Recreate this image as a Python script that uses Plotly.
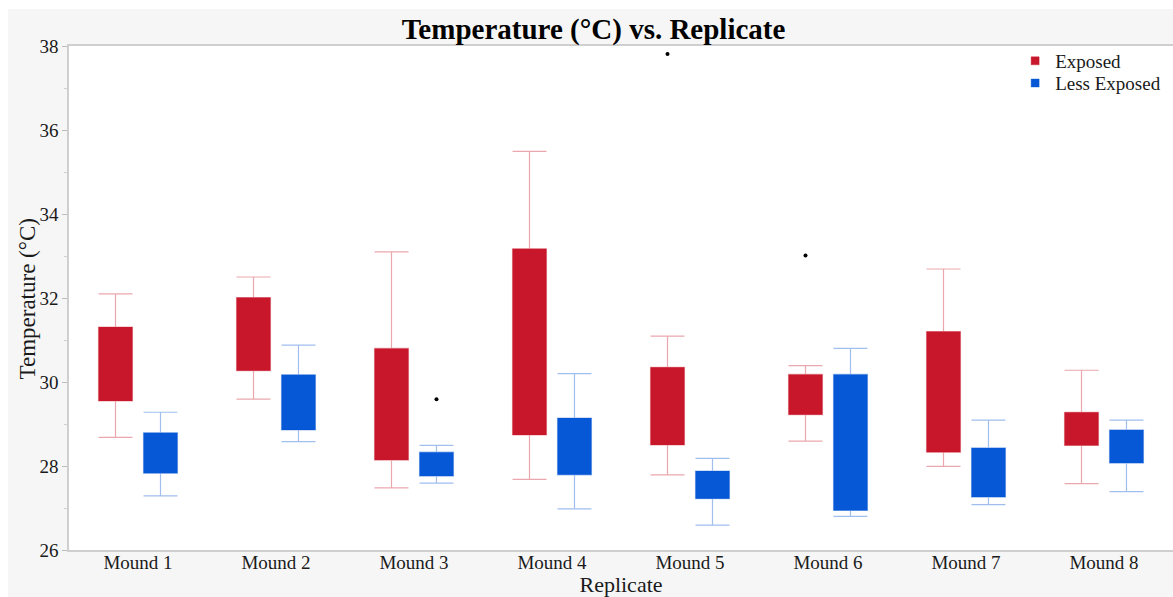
import plotly.graph_objects as go

# Replicate mounds on the x axis
mounds = ["Mound 1", "Mound 2", "Mound 3", "Mound 4", "Mound 5", "Mound 6", "Mound 7", "Mound 8"]

# Exposed: whisker ends and box edges (°C)
exp_low = [28.68, 29.59, 27.48, 27.68, 27.79, 28.59, 27.99, 27.58]
exp_q1 = [29.55, 30.27, 28.14, 28.74, 28.50, 29.22, 28.33, 28.49]
exp_q3 = [31.31, 32.01, 30.80, 33.17, 30.35, 30.18, 31.20, 29.28]
exp_high = [32.10, 32.50, 33.10, 35.49, 31.09, 30.39, 32.69, 30.28]

# Less exposed: whisker ends and box edges (°C)
less_low = [27.29, 28.58, 27.59, 26.98, 26.59, 26.80, 27.08, 27.39]
less_q1 = [27.83, 28.86, 27.76, 27.79, 27.22, 26.94, 27.26, 28.07]
less_q3 = [28.79, 30.17, 28.33, 29.14, 27.88, 30.18, 28.43, 28.86]
less_high = [29.28, 30.88, 28.49, 30.20, 28.18, 30.80, 29.09, 29.09]

# Points beyond the whiskers
exp_out_mound = ["Mound 5", "Mound 6"]
exp_out_val = [37.81, 33.01]
less_out_mound = ["Mound 3"]
less_out_val = [29.59]

RED = "#c8172a"
BLUE = "#0658d6"
RED_LINE = "rgba(200,23,42,0.38)"
BLUE_LINE = "rgba(6,88,214,0.38)"
OFFSET = 0.163
BOX_W = 0.246
SERIF = "Liberation Serif, Times New Roman, serif"

idx = {m: i for i, m in enumerate(mounds)}
x_exp = [i - OFFSET for i in range(len(mounds))]
x_less = [i + OFFSET for i in range(len(mounds))]

fig = go.Figure()

fig.add_trace(go.Box(
    name="Exposed", x=x_exp,
    q1=exp_q1, median=exp_q1, q3=exp_q3,
    lowerfence=exp_low, upperfence=exp_high,
    width=BOX_W, whiskerwidth=1,
    fillcolor=RED, line=dict(color=RED_LINE, width=1.2),
    showlegend=False, hoverinfo="skip",
))
fig.add_trace(go.Box(
    name="Less Exposed", x=x_less,
    q1=less_q1, median=less_q1, q3=less_q3,
    lowerfence=less_low, upperfence=less_high,
    width=BOX_W, whiskerwidth=1,
    fillcolor=BLUE, line=dict(color=BLUE_LINE, width=1.2),
    showlegend=False, hoverinfo="skip",
))

fig.add_trace(go.Scatter(
    x=[idx[m] - OFFSET for m in exp_out_mound] + [idx[m] + OFFSET for m in less_out_mound],
    y=exp_out_val + less_out_val,
    mode="markers", marker=dict(color="black", size=4),
    showlegend=False, hoverinfo="skip",
))

# compact legend keys: small filled rectangles, one legend box per group
for name, col, edge, leg in [("Exposed", RED, RED_LINE, "legend"),
                             ("Less Exposed", BLUE, BLUE_LINE, "legend2")]:
    fig.add_trace(go.Scatter(
        x=[None], y=[None], name=name, mode="markers", legend=leg,
        marker=dict(symbol="square", size=8, color=col, line=dict(color=edge, width=1)),
        hoverinfo="skip",
    ))

# panel background behind the title and axes, plot area kept white
L, T, B, W, H = 69, 46, 47, 1173, 597
pw, ph = W - L, H - T - B
fig.add_shape(type="rect", xref="paper", yref="paper", layer="below",
              x0=(8 - L) / pw, x1=1.05, y0=-(B + 5) / ph, y1=1 + (T - 9) / ph,
              fillcolor="#f6f6f6", line=dict(width=0))
fig.add_shape(type="rect", xref="paper", yref="paper", layer="below",
              x0=0, x1=1, y0=0, y1=1, fillcolor="white", line=dict(width=0))

legend_style = dict(xanchor="left", yanchor="top", bgcolor="rgba(0,0,0,0)",
                    font=dict(size=19, family=SERIF, color="#1a1a1a"), itemwidth=30)

fig.update_layout(
    width=W, height=H,
    margin=dict(l=L, r=0, t=T, b=B),
    paper_bgcolor="white", plot_bgcolor="white",
    boxmode="overlay",
    font=dict(family=SERIF, color="#1a1a1a", size=19),
    title=dict(text="<b>Temperature (°C) vs. Replicate</b>",
               font=dict(family=SERIF, size=29, color="#000"),
               x=0.506, xanchor="center", y=0.952, yanchor="middle", xref="container", yref="container"),
    legend=dict(x=0.857, y=1.008, **legend_style),
    legend2=dict(x=0.857, y=0.964, **legend_style),
    xaxis=dict(range=[-0.5, 7.5], tickvals=list(range(len(mounds))), ticktext=mounds,
               showline=True, linecolor="#cfcfcf", linewidth=1.5, mirror=True,
               ticks="", showgrid=False, zeroline=False, ticklabelstandoff=-6,
               title=dict(text="Replicate", font=dict(size=22, family=SERIF), standoff=8),
               tickfont=dict(size=19, family=SERIF, color="#1a1a1a")),
    yaxis=dict(range=[26, 38], dtick=2, tick0=26,
               showline=True, linecolor="#cfcfcf", linewidth=1.5,
               ticks="outside", ticklen=5, tickcolor="#bdbdbd",
               minor=dict(ticks="outside", ticklen=3, dtick=1, tickcolor="#cfcfcf"),
               showgrid=False, zeroline=False,
               tickfont=dict(size=19, family=SERIF, color="#1a1a1a")),
    annotations=[dict(text="Temperature (°C)", textangle=-90, showarrow=False,
                      xref="paper", yref="paper", x=(28 - L) / pw, y=0.497,
                      xanchor="center", yanchor="middle",
                      font=dict(size=23, family=SERIF, color="#1a1a1a"))],
)

fig.write_html("out.html")
